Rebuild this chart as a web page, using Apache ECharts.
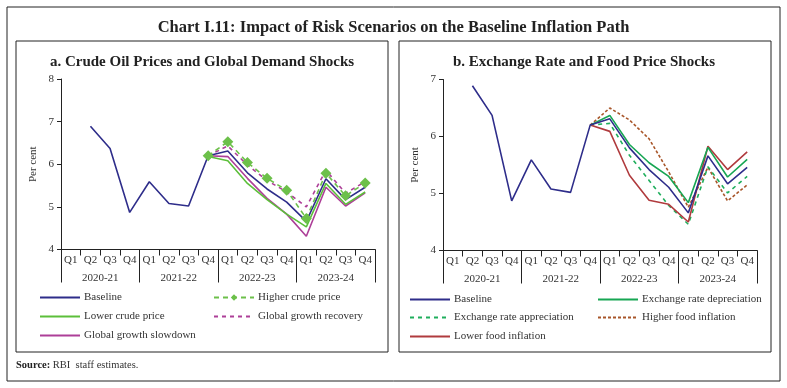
<!DOCTYPE html>
<html><head><meta charset="utf-8">
<script src="https://cdn.jsdelivr.net/npm/echarts@6/dist/echarts.min.js"></script>
<style>html,body{margin:0;padding:0;background:#fff}#c{width:787px;height:388px}</style>
</head><body><div id="c"></div>
<script>
var quarters = ['Q1','Q2','Q3','Q4','Q1','Q2','Q3','Q4','Q1','Q2','Q3','Q4','Q1','Q2','Q3','Q4'];
var years = ['2020-21','2021-22','2022-23','2023-24'];
var yTicksA = [4,5,6,7,8];
var yTicksB = [4,5,6,7];
var baseline = [null,6.89,6.37,4.87,5.59,5.08,5.02,6.20,6.31,5.80,5.42,5.11,4.66,5.66,5.17,5.46];
// panel a scenarios
var higherCrude = [null,null,null,null,null,null,null,6.20,6.53,6.04,5.67,5.39,4.73,5.79,5.26,5.56];
var lowerCrude = [null,null,null,null,null,null,null,6.18,6.08,5.55,5.17,4.83,4.53,5.55,5.06,5.35];
var growthRecovery = [null,null,null,null,null,null,null,6.20,6.43,5.98,5.62,5.35,5.00,5.86,5.32,5.59];
var growthSlowdown = [null,null,null,null,null,null,null,6.20,6.18,5.67,5.20,4.83,4.31,5.46,5.02,5.33];
// panel b scenarios
var erDepreciation = [null,null,null,null,null,null,null,6.20,6.37,5.86,5.54,5.30,4.84,5.81,5.29,5.60];
var erAppreciation = [null,null,null,null,null,null,null,6.20,6.23,5.67,5.23,4.79,4.46,5.47,5.01,5.30];
var higherFood = [null,null,null,null,null,null,null,6.20,6.50,6.29,5.96,5.38,4.76,5.46,4.87,5.15];
var lowerFood = [null,null,null,null,null,null,null,6.20,6.09,5.32,4.88,4.81,4.50,5.83,5.42,5.73];

var FONT = 'Liberation Serif';
var C_BASE = '#2e2d8a', C_LC = '#5cbf3a', C_HC = '#6cc04a', C_MAG = '#ad3f98';
var C_ERD = '#17a653', C_ERA = '#1fae5c', C_HF = '#a8562a', C_LF = '#b03b3e';

function xAxes(gi){
  return [{
    type:'category', gridIndex:gi, data:quarters, position:'bottom',
    axisLine:{lineStyle:{color:'#222',width:1}},
    axisTick:{show:true,interval:0,length:6,lineStyle:{color:'#222'}},
    axisLabel:{interval:0,margin:5,fontSize:11,color:'#333',fontFamily:FONT}
  },{
    type:'category', gridIndex:gi, data:years, position:'bottom',
    axisLine:{show:false},
    axisTick:{show:true,interval:0,length:33,lineStyle:{color:'#222'}},
    axisLabel:{interval:0,margin:23,fontSize:11,color:'#333',fontFamily:FONT}
  }];
}
function yAxis(gi,ticks){
  return {
    type:'value', gridIndex:gi, min:ticks[0], max:ticks[ticks.length-1], interval:1,
    name:'Per cent', nameLocation:'middle', nameRotate:90, nameGap:22,
    nameTextStyle:{fontSize:11,color:'#333',fontFamily:FONT},
    axisLine:{show:true,lineStyle:{color:'#222'}},
    axisTick:{show:true,length:4,lineStyle:{color:'#222'}},
    splitLine:{show:false},
    axisLabel:{fontSize:11,color:'#333',fontFamily:FONT,margin:7}
  };
}
function ln(name,data,color,type,xi,yi,extra){
  var s = {name:name,type:'line',data:data,xAxisIndex:xi,yAxisIndex:yi,
    symbol:'none',showSymbol:false,connectNulls:false,
    lineStyle:{color:color,width:1.6,type:type},itemStyle:{color:color},
    emphasis:{disabled:true},silent:true,animation:false,z:3};
  if(extra){for(var k in extra) s[k]=extra[k];}
  return s;
}
function lg(name,left,top,sym){
  var o = {data:[name],left:left,top:top,itemWidth:40,itemHeight:sym?8:10,itemGap:4,
    selectedMode:false,padding:0,
    textStyle:{fontSize:11,color:'#333',fontFamily:FONT,padding:[0,0,0,-1]}};
  if(!sym){ o.itemStyle = {opacity:0}; }
  return o;
}

var chart = echarts.init(document.getElementById('c'),null,{renderer:'canvas'});
chart.setOption({
  animation:false,
  backgroundColor:'#fff',
  title:[
    {text:'Chart I.11: Impact of Risk Scenarios on the Baseline Inflation Path',left:'center',top:14,
     textStyle:{fontSize:16.5,fontWeight:'bold',color:'#222',fontFamily:FONT}},
    {text:'a. Crude Oil Prices and Global Demand Shocks',left:197,top:50,textAlign:'center',
     textStyle:{fontSize:15,fontWeight:'bold',color:'#222',fontFamily:FONT}},
    {text:'b. Exchange Rate and Food Price Shocks',left:579,top:50,textAlign:'center',
     textStyle:{fontSize:15,fontWeight:'bold',color:'#222',fontFamily:FONT}}
  ],
  grid:[
    {left:61,top:79,width:314,height:170.5},
    {left:443,top:79.5,width:314,height:171}
  ],
  xAxis: xAxes(0).concat(xAxes(1)),
  yAxis:[yAxis(0,yTicksA),yAxis(1,yTicksB)],
  legend:[
    lg('Baseline ',39,292),
    lg('Higher crude price',213,292,true),
    lg('Lower crude price',39,311),
    lg('Global growth recovery',213,311),
    lg('Global growth slowdown',39,330),
    lg('Baseline',409,294),
    lg('Exchange rate depreciation',597,294),
    lg('Exchange rate appreciation',409,312),
    lg('Higher food inflation',597,312),
    lg('Lower food inflation',409,331)
  ],
  series:[
    ln('Global growth recovery',growthRecovery,C_MAG,[4,4],0,0),
    ln('Global growth slowdown',growthSlowdown,C_MAG,'solid',0,0),
    ln('Lower crude price',lowerCrude,C_LC,'solid',0,0),
    ln('Baseline ',baseline,C_BASE,'solid',0,0),
    ln('Higher crude price',higherCrude,C_HC,[5,4],0,0,{symbol:'diamond',showSymbol:true,symbolSize:11,z:4}),
    ln('Higher food inflation',higherFood,C_HF,[3,2],2,1),
    ln('Exchange rate appreciation',erAppreciation,C_ERA,[4,4],2,1),
    ln('Lower food inflation',lowerFood,C_LF,'solid',2,1),
    ln('Exchange rate depreciation',erDepreciation,C_ERD,'solid',2,1),
    ln('Baseline',baseline,C_BASE,'solid',2,1)
  ],
  graphic:[
    {type:'rect',shape:{x:7,y:7,width:773,height:374},style:{fill:null,stroke:'#222',lineWidth:1},silent:true,z:-1},
    {type:'rect',shape:{x:16,y:41,width:372,height:311},style:{fill:null,stroke:'#222',lineWidth:1},silent:true,z:-1},
    {type:'rect',shape:{x:399,y:41,width:372,height:311},style:{fill:null,stroke:'#222',lineWidth:1},silent:true,z:-1},
    {type:'text',left:16,top:360,style:{text:'{b|Source:} RBI  staff estimates.',
      rich:{b:{fontWeight:'bold',fontSize:10.5,fontFamily:FONT,fill:'#222'}},
      fontSize:10.5,fontFamily:FONT,fill:'#333'},silent:true}
  ]
});
</script></body></html>
